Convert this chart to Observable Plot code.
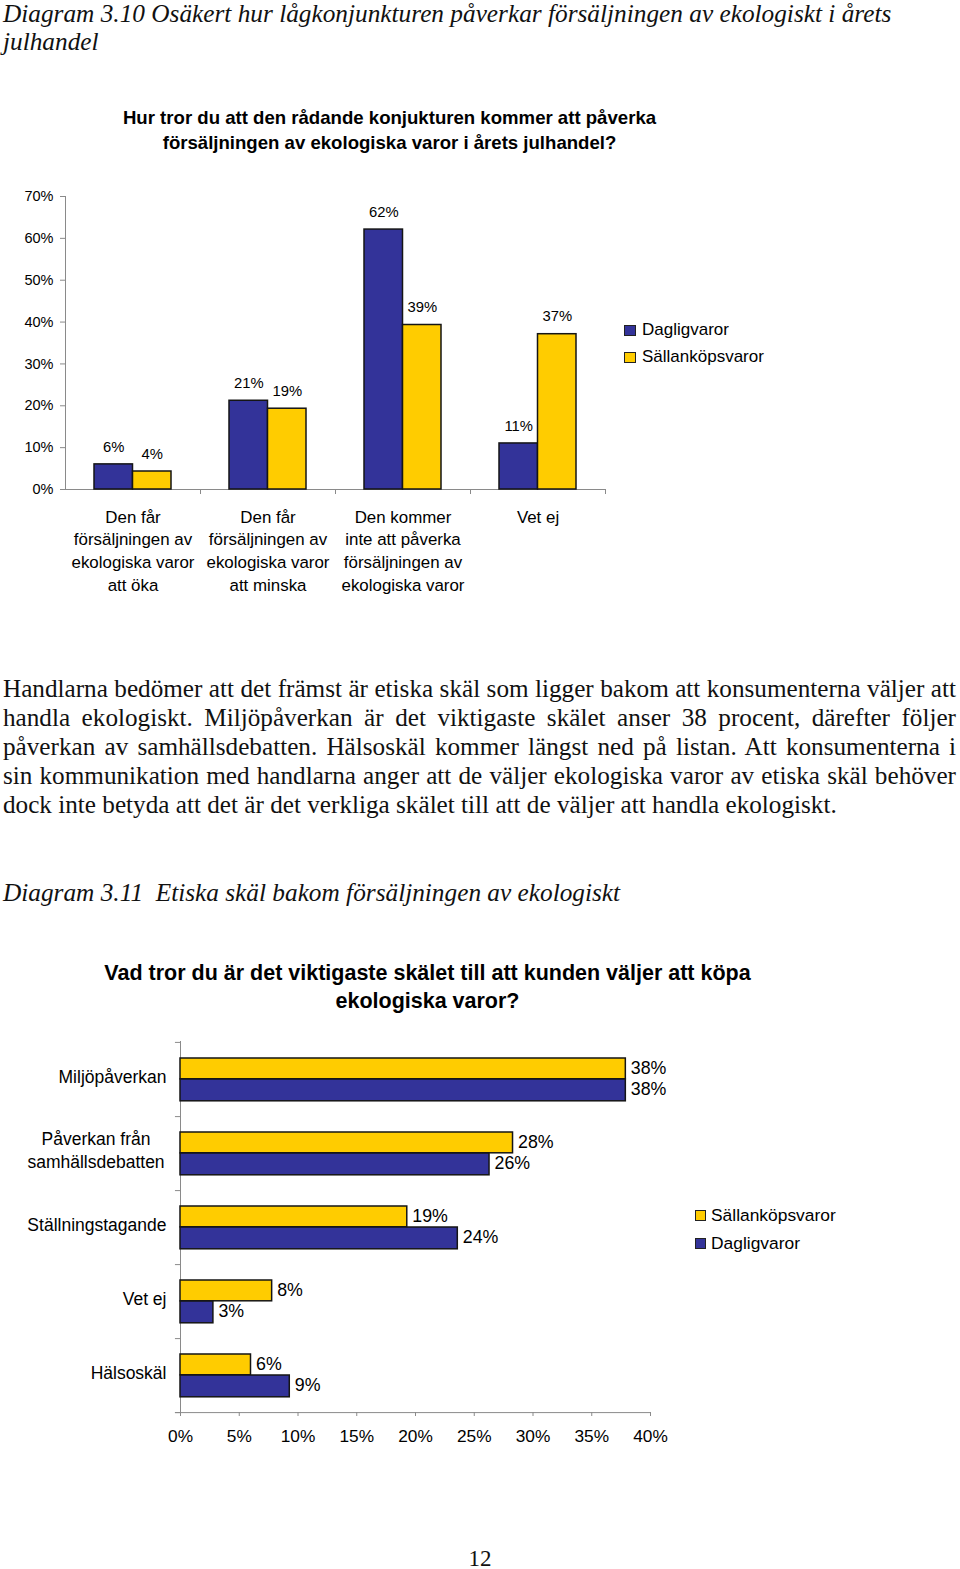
<!DOCTYPE html>
<html><head><meta charset="utf-8">
<script src="https://cdn.jsdelivr.net/npm/d3@7"></script>
<script src="https://cdn.jsdelivr.net/npm/@observablehq/plot@0.6"></script>
<style>
html,body{margin:0;padding:0;background:#fff;}
body{width:960px;height:1569px;position:relative;overflow:hidden;}
.abs{position:absolute;white-space:nowrap;}
.serif{font-family:"Liberation Serif","Times New Roman",serif;color:#111;}
.sans{font-family:"Liberation Sans",Arial,Helvetica,sans-serif;color:#000;}
.jl{width:953px;text-align:justify;text-align-last:justify;white-space:normal;}
.sq{position:absolute;border:1px solid #222;box-sizing:border-box;}
</style></head><body>
<div id="root"></div>
<script>
// ---------- data ----------
const categories1 = [
  "Den får\nförsäljningen av\nekologiska varor\natt öka",
  "Den får\nförsäljningen av\nekologiska varor\natt minska",
  "Den kommer\ninte att påverka\nförsäljningen av\nekologiska varor",
  "Vet ej"
];
const dagligvaror1 = [6, 21.2, 62.1, 11];
const sallankop1 = [4.3, 19.3, 39.3, 37.1];
const yTicks1 = [0, 10, 20, 30, 40, 50, 60, 70];

const categories2 = [
  "Miljöpåverkan",
  "Påverkan från\nsamhällsdebatten",
  "Ställningstagande",
  "Vet ej",
  "Hälsoskäl"
];
const sallankop2 = [37.9, 28.3, 19.3, 7.8, 6.0];
const dagligvaror2 = [37.9, 26.3, 23.6, 2.8, 9.3];
const xTicks2 = [0, 5, 10, 15, 20, 25, 30, 35, 40];

const seriesNames = ["Dagligvaror", "Sällanköpsvaror"];

// ---------- styles ----------
const blue = "#333399", yellow = "#FFCC00", gray = "#8a8a8a", edge = "#151515";
const font = "'Liberation Sans', Arial, Helvetica, sans-serif";
const pct = v => Math.round(v) + "%";

// ---------- page text ----------
const root = document.getElementById("root");
root.innerHTML = `
<div class="abs serif" style="left:3px;top:-1px;font-size:25.3px;line-height:28px;font-style:italic">Diagram 3.10 Osäkert hur lågkonjunkturen påverkar försäljningen av ekologiskt i årets<br>julhandel</div>
<div class="abs sans" style="left:0;width:779px;top:105px;font-size:18.6px;line-height:25px;font-weight:bold;text-align:center">Hur tror du att den rådande konjukturen kommer att påverka<br>försäljningen av ekologiska varor i årets julhandel?</div>
<div class="sq" style="left:624px;top:325px;width:12px;height:11px;background:${blue}"></div>
<div class="abs sans" style="left:642px;top:319px;font-size:17px;line-height:22px">${seriesNames[0]}</div>
<div class="sq" style="left:624px;top:352px;width:12px;height:11px;background:${yellow}"></div>
<div class="abs sans" style="left:642px;top:346px;font-size:17px;line-height:22px">${seriesNames[1]}</div>
<div class="abs serif" style="left:3px;top:674px;font-size:25.2px;line-height:29px">
<div class="jl">Handlarna bedömer att det främst är etiska skäl som ligger bakom att konsumenterna väljer att</div>
<div class="jl">handla ekologiskt. Miljöpåverkan är det viktigaste skälet anser 38 procent, därefter följer</div>
<div class="jl">påverkan av samhällsdebatten. Hälsoskäl kommer längst ned på listan. Att konsumenterna i</div>
<div class="jl">sin kommunikation med handlarna anger att de väljer ekologiska varor av etiska skäl behöver</div>
<div>dock inte betyda att det är det verkliga skälet till att de väljer att handla ekologiskt.</div>
</div>
<div class="abs serif" style="left:3px;top:878px;font-size:25.3px;line-height:28px;font-style:italic;white-space:pre">Diagram 3.11  Etiska skäl bakom försäljningen av ekologiskt</div>
<div class="abs sans" style="left:0;width:855px;top:959px;font-size:21.5px;line-height:28px;font-weight:bold;text-align:center">Vad tror du är det viktigaste skälet till att kunden väljer att köpa<br>ekologiska varor?</div>
<div class="sq" style="left:695px;top:1210px;width:11px;height:11px;background:${yellow}"></div>
<div class="abs sans" style="left:711px;top:1204px;font-size:17.4px;line-height:22px">${seriesNames[1]}</div>
<div class="sq" style="left:695px;top:1238px;width:11px;height:11px;background:${blue}"></div>
<div class="abs sans" style="left:711px;top:1232px;font-size:17.4px;line-height:22px">${seriesNames[0]}</div>
<div class="abs serif" style="left:0;width:960px;top:1545px;font-size:23px;line-height:28px;text-align:center">12</div>
`;

// ---------- chart 1 ----------
const rows1 = categories1.map((c, i) => ({cat: c, dag: dagligvaror1[i], sal: sallankop1[i]}));
const bw1 = 135;
const chart1 = Plot.plot({
  width: 960, height: 440,
  marginTop: 16, marginBottom: 131, marginLeft: 65, marginRight: 355,
  style: {fontFamily: font, fontSize: "14.5px", color: "#000", background: "transparent"},
  x: {domain: categories1, padding: 0, label: null},
  y: {domain: [0, 70], label: null},
  marks: [
    Plot.ruleY([0], {stroke: gray}),
    Plot.ruleX([categories1[0]], {x: d => d, dx: -bw1 / 2, y1: 0, y2: 70, stroke: gray}),
    Plot.ruleX(categories1, {x: d => d, dx: bw1 / 2, y1: 0, y2: -1.2, stroke: gray}),
    Plot.barY(rows1, {x: "cat", y: "dag", fill: blue, stroke: edge, strokeWidth: 1.5, insetLeft: 29, insetRight: 67.5}),
    Plot.barY(rows1, {x: "cat", y: "sal", fill: yellow, stroke: edge, strokeWidth: 1.5, insetLeft: 67.5, insetRight: 29}),
    Plot.text(rows1, {x: "cat", y: "dag", text: d => pct(d.dag), dx: -19.25, dy: -17.5, fontSize: 14.8}),
    Plot.text(rows1, {x: "cat", y: "sal", text: d => pct(d.sal), dx: 19.25, dy: -17.5, fontSize: 14.8}),
    Plot.axisY({ticks: yTicks1, tickFormat: d => d + "%", tickSize: 5, tickPadding: 7, stroke: gray, fontSize: 14.5, label: null}),
    Plot.axisX({tickSize: 0, tickPadding: 17, lineHeight: 1.34, fontSize: 16.9, label: null})
  ]
});
chart1.style.position = "absolute";
chart1.style.left = "0px";
chart1.style.top = "180px";
document.body.appendChild(chart1);

// ---------- chart 2 ----------
const rows2 = categories2.map((c, i) => ({cat: c, sal: sallankop2[i], dag: dagligvaror2[i]}));
const bw2 = 74.2;
const single = categories2.filter(c => !c.includes("\n"));
const multi = categories2.filter(c => c.includes("\n"));
const chart2 = Plot.plot({
  width: 960, height: 430,
  marginTop: 11, marginBottom: 48, marginLeft: 180, marginRight: 310,
  style: {fontFamily: font, fontSize: "17px", color: "#000", background: "transparent"},
  x: {domain: [0, 40], label: null},
  y: {domain: categories2, padding: 0, label: null},
  marks: [
    Plot.ruleX([0], {stroke: gray}),
    Plot.ruleY([categories2[categories2.length - 1]], {y: d => d, dy: bw2 / 2, x1: -0.43, x2: 40, stroke: gray}),
    Plot.ruleY(categories2, {y: d => d, dy: bw2 / 2, x1: -0.43, x2: 0, stroke: gray}),
    Plot.ruleY([categories2[0]], {y: d => d, dy: -bw2 / 2, x1: -0.43, x2: 0, stroke: gray}),
    Plot.barX(rows2, {y: "cat", x: "sal", fill: yellow, stroke: edge, strokeWidth: 1.5, insetTop: 16, insetBottom: 37.2}),
    Plot.barX(rows2, {y: "cat", x: "dag", fill: blue, stroke: edge, strokeWidth: 1.5, insetTop: 37, insetBottom: 15.2}),
    Plot.text(rows2, {y: "cat", x: "sal", text: d => pct(d.sal), textAnchor: "start", dx: 5, dy: -11.5, fontSize: 17.8}),
    Plot.text(rows2, {y: "cat", x: "dag", text: d => pct(d.dag), textAnchor: "start", dx: 5, dy: 9.5, fontSize: 17.8}),
    Plot.axisX({ticks: xTicks2, tickFormat: d => d + "%", tickSize: 4, tickPadding: 13, stroke: gray, fontSize: 17.3, label: null}),
    Plot.axisY(single, {tickSize: 0, tickPadding: 14, fontSize: 17.5, dy: -2, label: null}),
    Plot.axisY(multi, {tickSize: 0, tickPadding: 14, fontSize: 17.5, textAnchor: "middle", dx: -70.5, dy: -4, lineHeight: 1.32, label: null})
  ]
});
chart2.style.position = "absolute";
chart2.style.left = "0px";
chart2.style.top = "1030px";
document.body.appendChild(chart2);
</script>
</body></html>
